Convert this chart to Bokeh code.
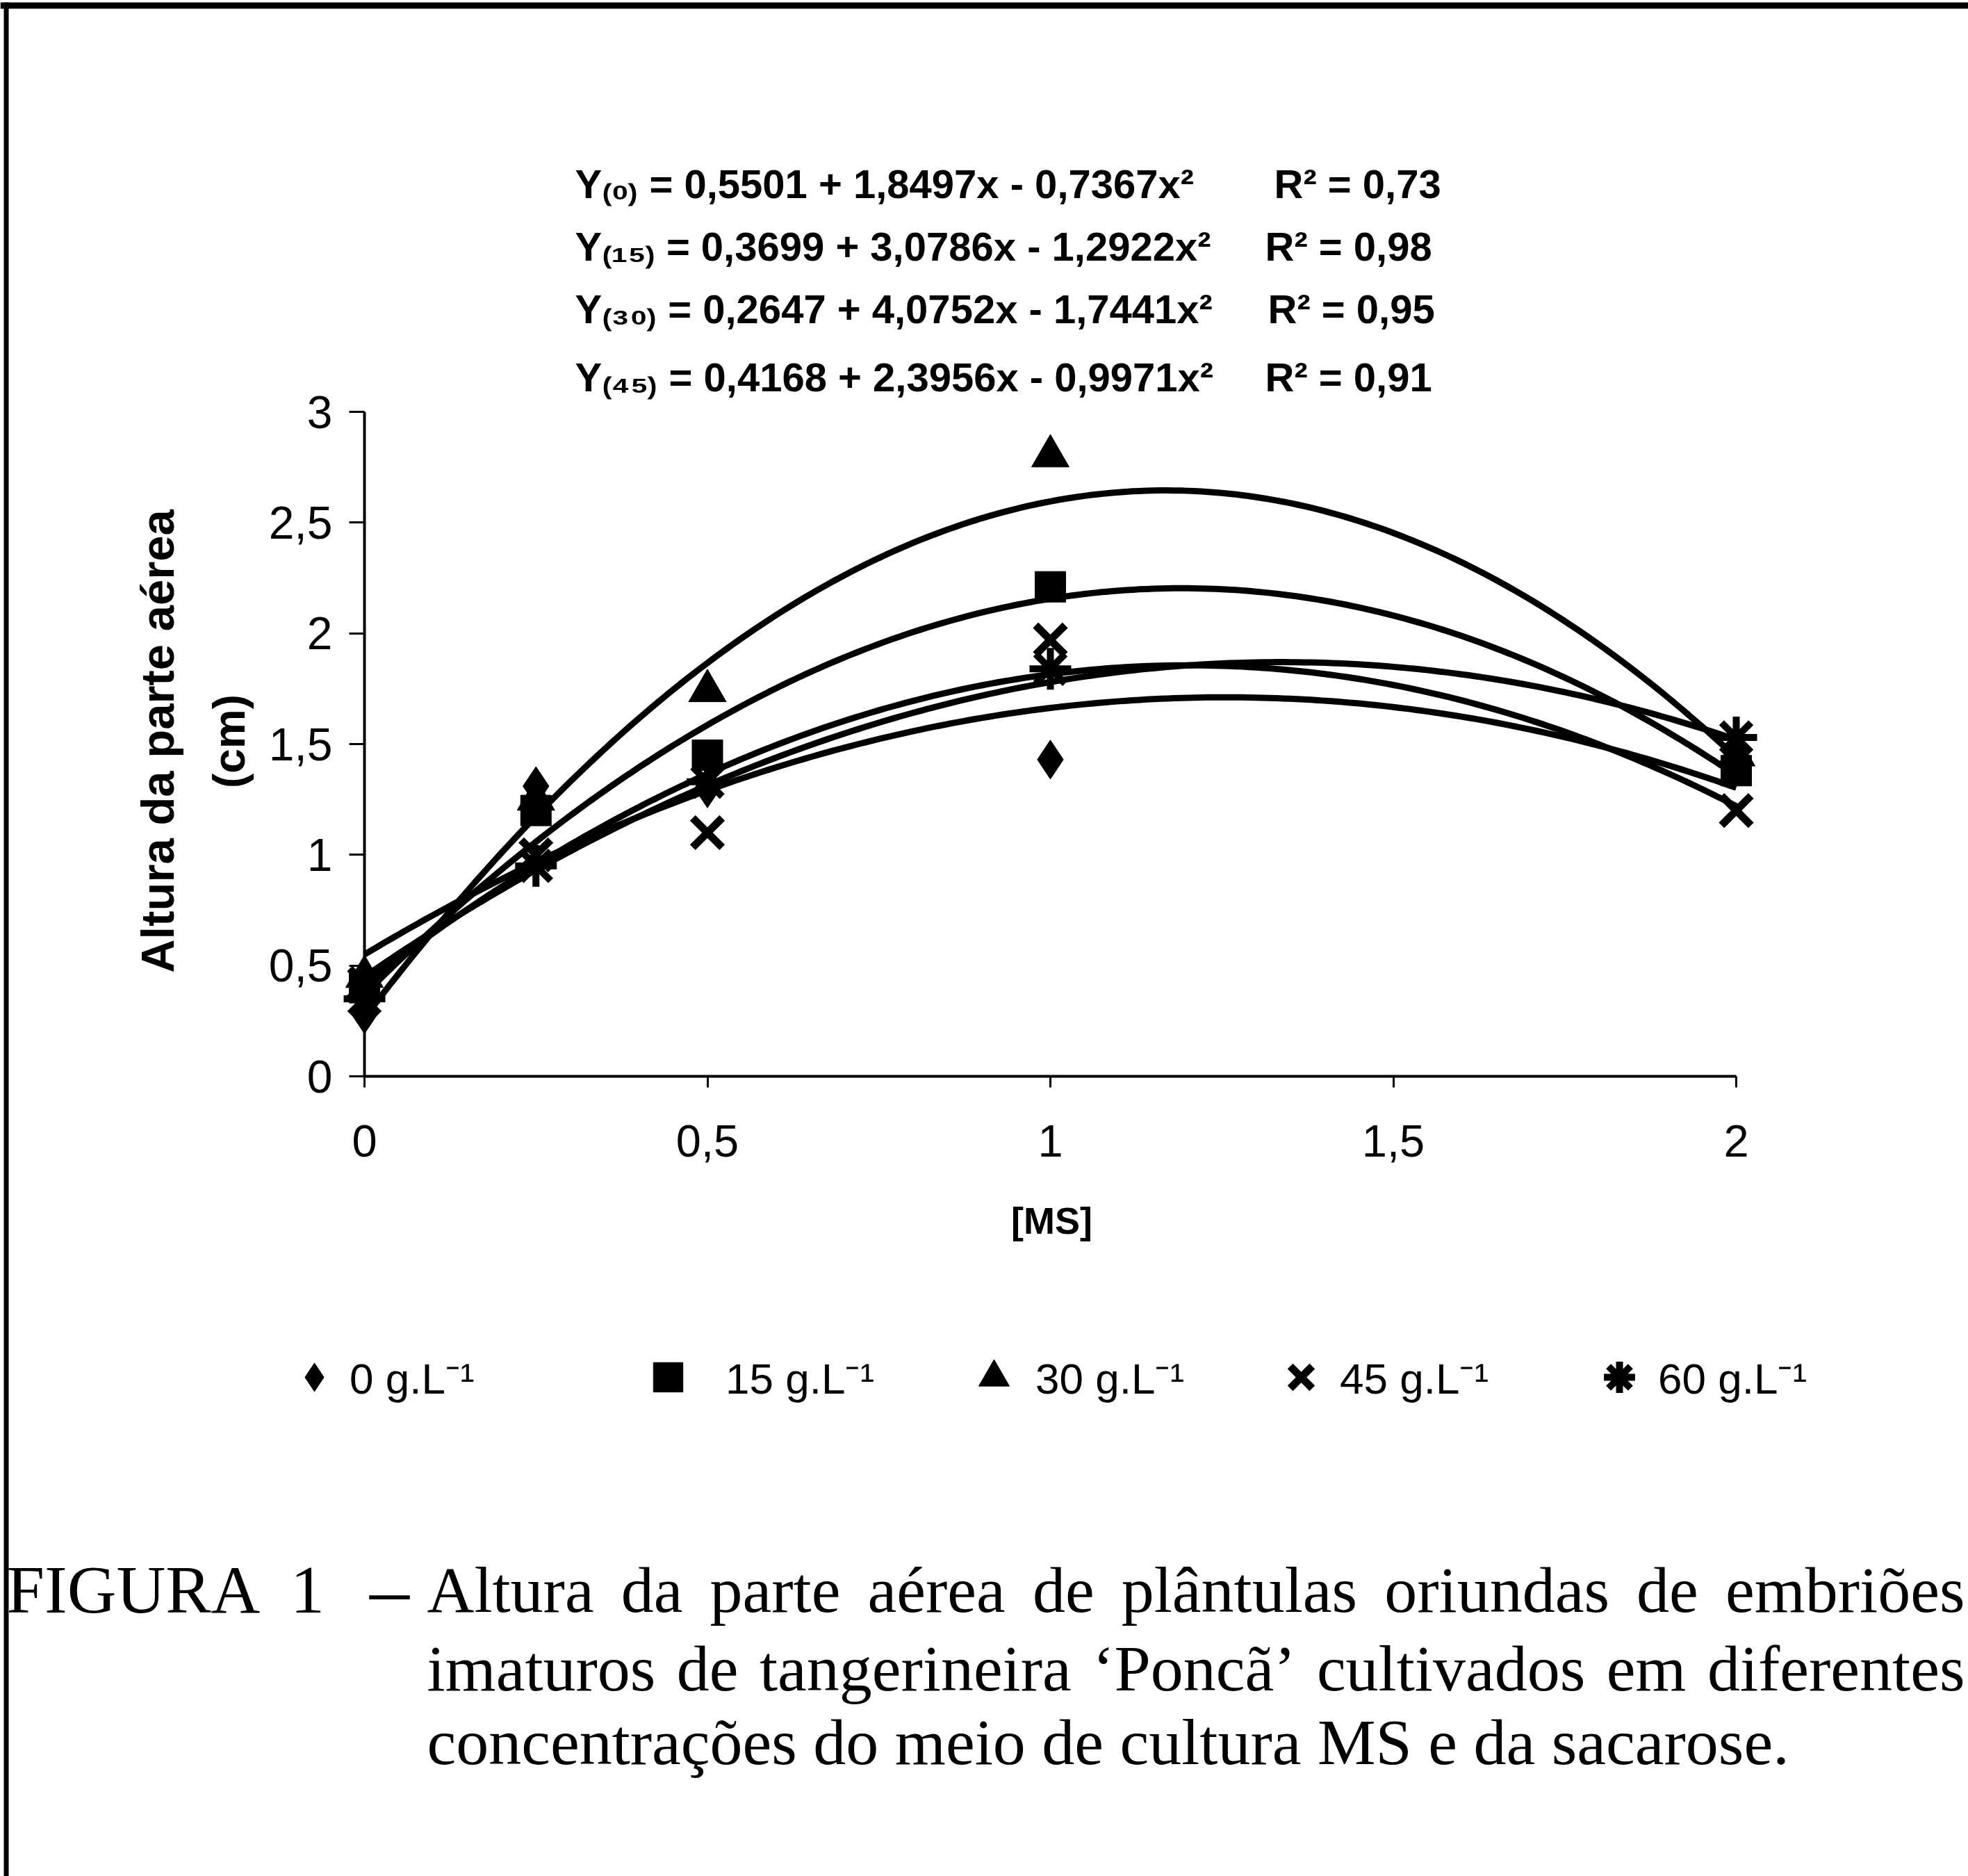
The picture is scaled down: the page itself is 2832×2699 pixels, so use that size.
import math
import numpy as np
from bokeh.plotting import figure
from bokeh.models import (Range1d, Label, Legend, LegendItem, FixedTicker,
                          LinearAxis, BoxAnnotation)
from bokeh.embed import file_html
from bokeh.resources import INLINE

# ---------------- data ----------------
ms_levels = [0, 0.25, 0.5, 1, 2]
alt_0 = [0.28, 1.31, 1.30, 1.43, 1.40]
alt_15 = [0.40, 1.20, 1.45, 2.21, 1.38]
alt_30 = [0.45, 1.25, 1.74, 2.80, 1.45]
alt_45 = [0.42, 1.00, 1.10, 1.97, 1.20]
alt_60 = [0.35, 0.95, 1.33, 1.84, 1.53]

# quadratic trend lines  y = a + b x + c x^2
coef_a = [0.5501, 0.3699, 0.2647, 0.4168, 0.45]
coef_b = [1.8497, 3.0786, 4.0752, 2.3956, 2.125]
coef_c = [-0.7367, -1.2922, -1.7441, -0.9971, -0.795]

legend_labels = ["0 g.L\u207b\u00b9", "15 g.L\u207b\u00b9", "30 g.L\u207b\u00b9",
                 "45 g.L\u207b\u00b9", "60 g.L\u207b\u00b9"]
x_ticks = [0, 0.5, 1, 1.5, 2]
x_tick_labels = ["0", "0,5", "1", "1,5", "2"]
y_ticks = [0, 0.5, 1, 1.5, 2, 2.5, 3]
y_tick_labels = ["0", "0,5", "1", "1,5", "2", "2,5", "3"]

equations = [
    "Y\u208d\u2080\u208e = 0,5501 + 1,8497x - 0,7367x\u00b2",
    "Y\u208d\u2081\u2085\u208e =  0,3699 + 3,0786x - 1,2922x\u00b2",
    "Y\u208d\u2083\u2080\u208e = 0,2647 + 4,0752x - 1,7441x\u00b2",
    "Y\u208d\u2084\u2085\u208e =  0,4168 + 2,3956x - 0,9971x\u00b2",
]
r2_texts = ["R\u00b2 = 0,73", "R\u00b2 = 0,98", "R\u00b2 = 0,95", "R\u00b2 = 0,91"]

caption_head = "FIGURA \u00a01"
caption_lines = [
    "Altura da parte a\u00e9rea de pl\u00e2ntulas oriundas de embri\u00f5es",
    "imaturos de tangerineira \u2018Ponc\u00e3\u2019 cultivados em diferentes",
    "concentra\u00e7\u00f5es do meio de cultura MS e da sacarose.",
]

# ---------------- layout ----------------
W, H = 2832, 2699
X0_PX, X2_PX = 524, 2498      # canvas x of MS = 0 and MS = 2
Y0_PX, Y3_PX = 1548, 592      # canvas y of height 0 and 3
KX = (X2_PX - X0_PX) / 2.0
KY = (Y0_PX - Y3_PX) / 3.0


def dx(px):
    return (px - X0_PX) / KX


def dy(py):
    return (Y0_PX - py) / KY


p = figure(width=W, height=H, x_range=Range1d(dx(0), dx(W)), y_range=Range1d(dy(H), dy(0)),
           output_backend="svg", toolbar_location=None,
           x_axis_location=None, y_axis_location=None,
           min_border=0, min_border_left=0, min_border_right=0,
           min_border_top=0, min_border_bottom=0)
p.outline_line_color = None
p.grid.visible = False
p.background_fill_color = "white"
p.border_fill_color = "white"

SANS = "Liberation Sans"
SERIF = "Liberation Serif"

# x axis (fixed at height 0)
xa = LinearAxis(fixed_location=0, bounds=(0, 2))
xa.ticker = FixedTicker(ticks=x_ticks)
xa.major_label_overrides = {t: l for t, l in zip(x_ticks, x_tick_labels)}
xa.axis_line_width = 4
xa.axis_line_color = "black"
xa.major_tick_line_width = 3
xa.major_tick_out = 16
xa.major_tick_in = 0
xa.minor_tick_line_color = None
xa.major_label_text_font = SANS
xa.major_label_text_font_size = "65px"
xa.major_label_text_color = "black"
xa.major_label_standoff = 54
p.add_layout(xa, "below")

# y axis (fixed at MS = 0)
ya = LinearAxis(fixed_location=0, bounds=(0, 3))
ya.ticker = FixedTicker(ticks=y_ticks)
ya.major_label_overrides = {t: l for t, l in zip(y_ticks, y_tick_labels)}
ya.axis_line_width = 4
ya.axis_line_color = "black"
ya.major_tick_line_width = 3
ya.major_tick_out = 22
ya.major_tick_in = 0
ya.minor_tick_line_color = None
ya.major_label_text_font = SANS
ya.major_label_text_font_size = "66px"
ya.major_label_text_color = "black"
ya.major_label_standoff = 24
p.add_layout(ya, "left")

# trend lines
xs = np.linspace(0, 2, 201)
for a, b, c in zip(coef_a, coef_b, coef_c):
    p.line(xs, a + b * xs + c * xs ** 2, line_color="black", line_width=9)

# points
series = [alt_0, alt_15, alt_30, alt_45, alt_60]
markers = ["diamond", "square", "triangle", "x", "asterisk"]
sizes = [56, 44, 54, 60, 60]
lws = [1, 1, 1, 11, 10]
renderers = []
for ys, m, s, lw in zip(series, markers, sizes, lws):
    r = p.scatter(ms_levels, ys, marker=m, size=s, fill_color="black",
                  line_color="black", line_width=lw)
    renderers.append(r)

# legends (one per entry, positioned individually)
legend_gw = [102, 106, 110, 112, 112]
legend_cx = [452, 961, 1430, 1872, 2330]
legend_text_x = [486, 1044, 1490, 1914, 2371]
legend_cy = 1981
for r, lab, cx, tx, gw in zip(renderers, legend_labels, legend_cx, legend_text_x, legend_gw):
    leg = Legend(items=[LegendItem(label=lab, renderers=[r])],
                 location=(cx - gw / 2, H - (legend_cy + gw / 2)),
                 orientation="horizontal", padding=0, margin=0, spacing=0,
                 glyph_width=gw, glyph_height=gw,
                 label_standoff=max(0, int(tx - (cx + gw / 2))),
                 background_fill_alpha=0, border_line_alpha=0,
                 label_text_font=SANS, label_text_font_size="62px",
                 label_text_color="black")
    p.add_layout(leg, "center")

# equations
eq_y = [264, 354, 444, 542]
r2_x = [1833, 1820, 1824, 1820]
for eq, r2, yy, rx in zip(equations, r2_texts, eq_y, r2_x):
    p.add_layout(Label(x=dx(827), y=dy(yy), text=eq, text_font=SANS, text_font_style="bold",
                       text_font_size="58px", text_baseline="middle", text_align="left",
                       text_color="black"))
    p.add_layout(Label(x=dx(rx), y=dy(yy), text=r2, text_font=SANS, text_font_style="bold",
                       text_font_size="58px", text_baseline="middle", text_align="left",
                       text_color="black"))

# axis titles
p.add_layout(Label(x=dx(1513), y=dy(1755), text="[MS]", text_font=SANS, text_font_style="bold",
                   text_font_size="54px", text_baseline="middle", text_align="center",
                   text_color="black"))
p.add_layout(Label(x=dx(226), y=dy(1066), text="Altura da parte a\u00e9rea", angle=math.pi / 2,
                   text_font=SANS, text_font_style="bold", text_font_size="67px",
                   text_baseline="middle", text_align="center", text_color="black"))
p.add_layout(Label(x=dx(329), y=dy(1066), text="(cm)", angle=math.pi / 2,
                   text_font=SANS, text_font_style="bold", text_font_size="64px",
                   text_baseline="middle", text_align="center", text_color="black"))

# caption (justified lines, Times metrics)
CAP_FS = 94
TIMES_W = {"a": .444, "b": .5, "c": .444, "d": .5, "e": .444, "f": .333, "g": .5, "h": .5,
           "i": .278, "j": .278, "k": .5, "l": .278, "m": .778, "n": .5, "o": .5, "p": .5,
           "q": .5, "r": .333, "s": .389, "t": .278, "u": .5, "v": .5, "w": .722, "x": .5,
           "y": .5, "z": .444, "\u00e9": .444, "\u00e2": .444, "\u00f5": .5, "\u00e3": .444,
           "\u00e7": .444, "A": .722, "P": .556, "M": .889, "S": .556, "\u2018": .333,
           "\u2019": .333, ".": .25}


def word_w(w):
    return sum(TIMES_W.get(ch, .5) for ch in w) * CAP_FS


TEXT_L, TEXT_R = 614, 2827
cap_base = [2286, 2399, 2505]
p.add_layout(Label(x=dx(9), y=dy(cap_base[0]), text=caption_head, text_font=SERIF,
                   text_font_size=f"{CAP_FS + 4}px", text_baseline="alphabetic",
                   text_align="left", text_color="black"))
p.add_layout(Label(x=dx(560), y=dy(cap_base[0]), text="\u2013", text_font=SERIF,
                   text_font_size=f"{CAP_FS + 20}px", text_baseline="alphabetic",
                   text_align="center", text_color="black"))
for li, (line, yy) in enumerate(zip(caption_lines, cap_base)):
    if li == len(caption_lines) - 1:
        p.add_layout(Label(x=dx(TEXT_L), y=dy(yy), text=line, text_font=SERIF,
                           text_font_size=f"{CAP_FS}px", text_baseline="alphabetic",
                           text_align="left", text_color="black"))
        continue
    words = line.split(" ")
    widths = [word_w(w) for w in words]
    gap = (TEXT_R - TEXT_L - sum(widths)) / (len(words) - 1)
    xpos = TEXT_L
    for wi, (w, ww) in enumerate(zip(words, widths)):
        if wi == len(words) - 1:
            p.add_layout(Label(x=dx(TEXT_R), y=dy(yy), text=w, text_font=SERIF,
                               text_font_size=f"{CAP_FS}px", text_baseline="alphabetic",
                               text_align="right", text_color="black"))
        else:
            p.add_layout(Label(x=dx(xpos), y=dy(yy), text=w, text_font=SERIF,
                               text_font_size=f"{CAP_FS}px", text_baseline="alphabetic",
                               text_align="left", text_color="black"))
        xpos += ww + gap

# page border lines (top and left)
p.add_layout(BoxAnnotation(left=dx(0), right=dx(W), top=dy(3), bottom=dy(12),
                           fill_color="black", fill_alpha=1, line_color=None))
p.add_layout(BoxAnnotation(left=dx(5), right=dx(12), top=dy(3), bottom=dy(H),
                           fill_color="black", fill_alpha=1, line_color=None))

open("out.html", "w").write(file_html(p, INLINE))
